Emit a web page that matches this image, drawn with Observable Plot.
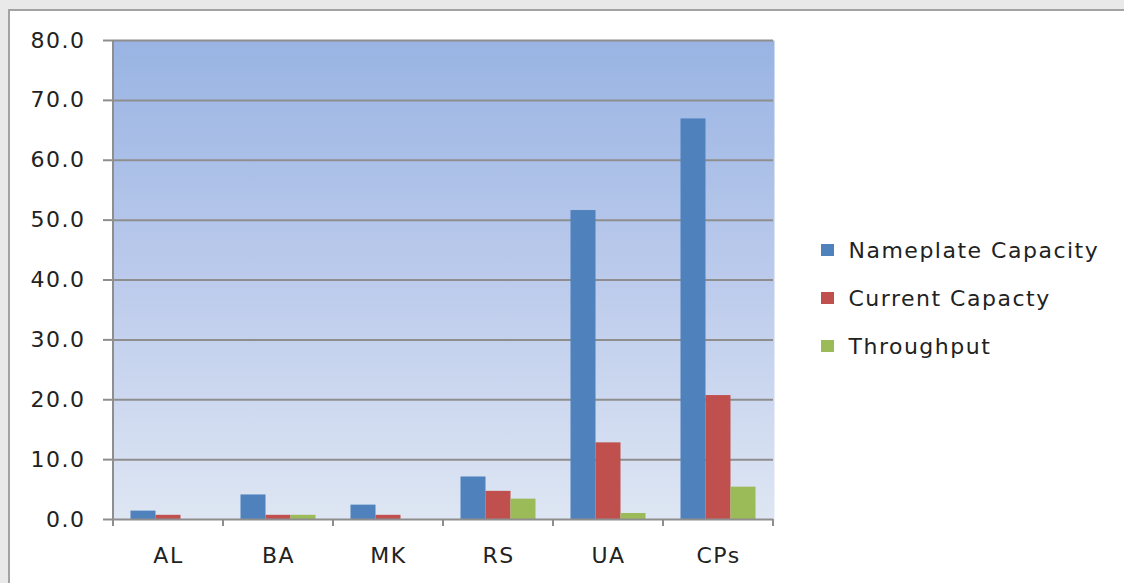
<!DOCTYPE html>
<html>
<head>
<meta charset="utf-8">
<script src="https://cdn.jsdelivr.net/npm/d3@7"></script>
<script src="https://cdn.jsdelivr.net/npm/@observablehq/plot@0.6"></script>
<style>
  html, body { margin: 0; padding: 0; }
  #page { position: relative; width: 1124px; height: 583px; overflow: hidden; background: #e9e9e9; font-family: "DejaVu Sans", Verdana, sans-serif; }
  #sheet { position: absolute; left: 8px; top: 9px; right: 0; bottom: 0; background: #fff; border-left: 2px solid #a3a3a3; border-top: 2px solid #a3a3a3; }
  #chart { position: absolute; left: 0; top: 0; }
  #legend { position: absolute; left: 821px; top: 226px; color: #222; font-size: 22px; letter-spacing: 1.5px; }
  #legend .row { display: flex; align-items: center; height: 48px; }
  #legend .sw { width: 12.5px; height: 12.5px; margin-right: 15px; }
</style>
</head>
<body>
<div id="page">
  <div id="sheet"></div>
  <div id="chart"></div>
  <div id="legend"></div>
</div>
<script>
const categories = ["AL", "BA", "MK", "RS", "UA", "CPs"];
const series = ["Nameplate Capacity", "Current Capacty", "Throughput"];
const nameplate = [1.4, 4.1, 2.4, 7.1, 51.6, 66.9];
const current = [0.7, 0.7, 0.7, 4.7, 12.8, 20.7];
const throughput = [0, 0.7, 0, 3.4, 1.0, 5.4];
const yTicks = [0, 10, 20, 30, 40, 50, 60, 70, 80];
const colors = ["#4f81bd", "#c0504d", "#9bbb59"];

const valuesBySeries = [nameplate, current, throughput];
const data = [];
categories.forEach((c, i) => {
  series.forEach((s, j) => data.push({cat: c, series: s, value: valuesBySeries[j][i]}));
});

const gridColor = "#8e8e8e";

const chart = Plot.plot({
  width: 1124,
  height: 583,
  marginLeft: 113,
  marginRight: 351,
  marginTop: 40,
  marginBottom: 64,
  style: {background: "transparent", fontFamily: "DejaVu Sans, Verdana, sans-serif", color: "#222", overflow: "visible", letterSpacing: "1.5px"},
  fx: {domain: categories, padding: 0, round: false},
  x: {domain: series, paddingInner: 0, paddingOuter: 0.7, round: false, axis: null},
  y: {domain: [0, 80], axis: null},
  color: {domain: series, range: colors},
  marks: [
    Plot.frame({fill: "url(#plotBg)", stroke: "none", insetLeft: -1, insetRight: -1}),
    Plot.ruleY(yTicks.filter(d => d > 0), {stroke: gridColor, strokeWidth: 2}),
    Plot.barY(data, {fx: "cat", x: "series", y: "value", fill: "series"}),
    Plot.ruleY([0], {stroke: gridColor, strokeWidth: 2}),
    Plot.axisY({ticks: yTicks, tickFormat: d => d.toFixed(1), tickSize: 10, tickPadding: 18, fontSize: 22, stroke: gridColor, strokeWidth: 2, label: null}),
    Plot.axisFx({anchor: "bottom", tickSize: 0, tickPadding: 28, fontSize: 22, label: null})
  ]
});

document.getElementById("chart").appendChild(chart);

// gradient background + axis line + category boundary ticks, positioned from Plot's scales
const svg = d3.select(chart);
const defs = svg.insert("defs", ":first-child");
const grad = defs.append("linearGradient").attr("id", "plotBg").attr("x1", 0).attr("y1", 0).attr("x2", 0).attr("y2", 1);
grad.append("stop").attr("offset", "0%").attr("stop-color", "#99b4e3");
grad.append("stop").attr("offset", "50%").attr("stop-color", "#bccbec");
grad.append("stop").attr("offset", "100%").attr("stop-color", "#dee6f3");

const fx = chart.scale("fx");
const y = chart.scale("y");
const y0 = y.apply(0), yTop = y.apply(80);
const boundaries = categories.map(c => fx.apply(c)).concat([fx.apply(categories[categories.length - 1]) + fx.bandwidth]);
const g = svg.append("g").attr("stroke", gridColor).attr("stroke-width", 2);
g.append("line").attr("x1", boundaries[0]).attr("x2", boundaries[0]).attr("y1", yTop).attr("y2", y0 + 7);
boundaries.forEach(b => g.append("line").attr("x1", b).attr("x2", b).attr("y1", y0).attr("y2", y0 + 7));

// legend
const legend = d3.select("#legend");
series.forEach((s, i) => {
  const row = legend.append("div").attr("class", "row");
  row.append("div").attr("class", "sw").style("background", colors[i]);
  row.append("span").text(s);
});
</script>
</body>
</html>
